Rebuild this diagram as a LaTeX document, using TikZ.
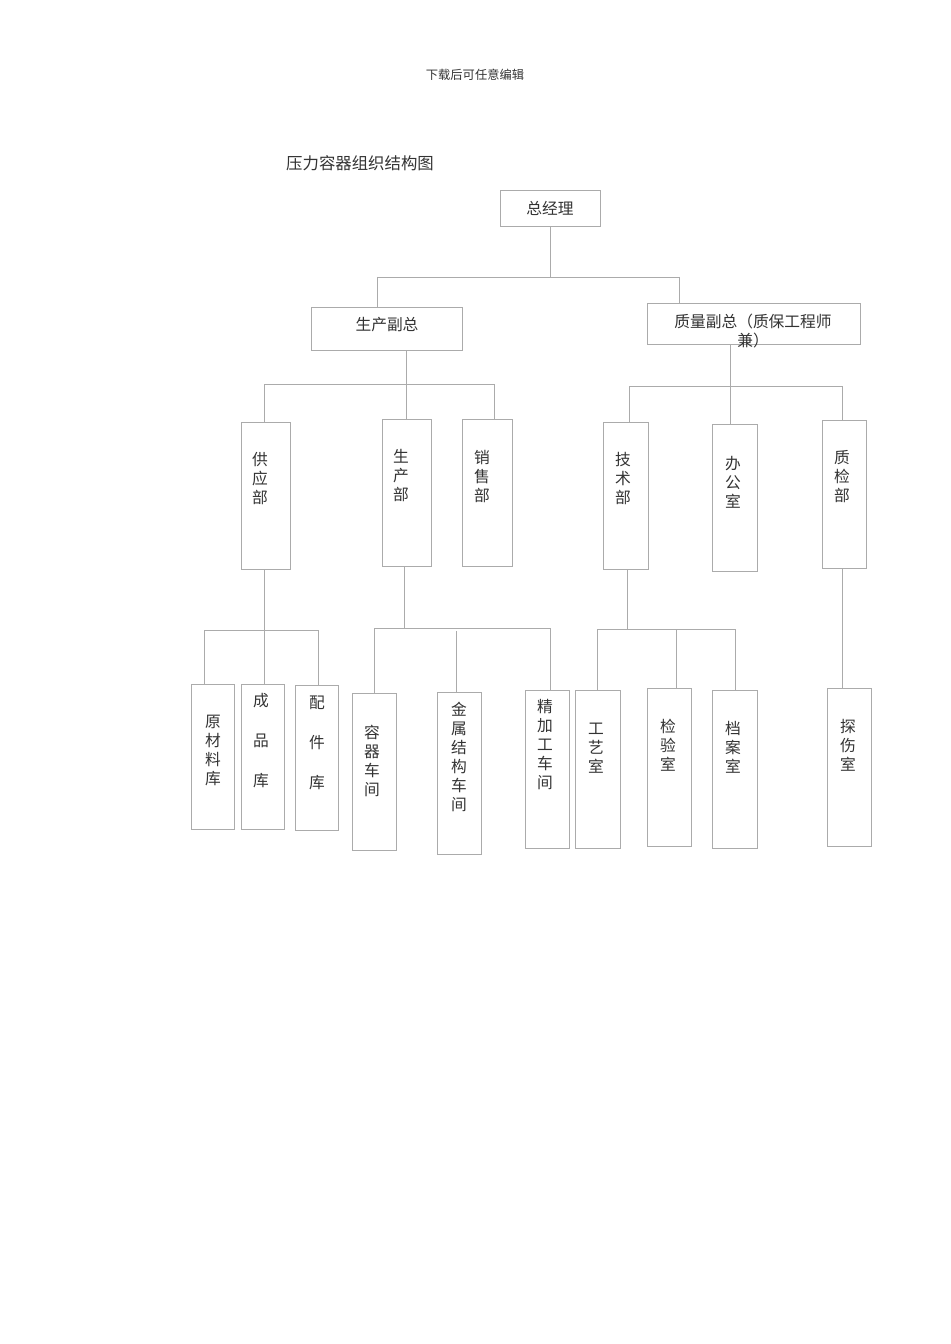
\documentclass[tikz,border=0pt]{standalone}
\usepackage{fontspec}
\newfontfamily\cjk{Noto Sans CJK SC}
\usetikzlibrary{fit}
\begin{document}
\begin{tikzpicture}[x=0.75pt,y=-0.75pt,
  box/.style={draw=black!33, line width=0.6pt, inner sep=0pt},
  conn/.style={draw=black!33, line width=0.6pt},
  txt/.style={font=\cjk\fontsize{11.8}{14.25}\selectfont, text=black!80, align=center, inner sep=0pt},
  wtxt/.style={font=\cjk\fontsize{11.8}{30}\selectfont, text=black!80, align=center, inner sep=0pt}]
\useasboundingbox[fill=white] (0,0) rectangle (950,1344);
% header and title
\node[font=\cjk\fontsize{9.2}{11}\selectfont, text=black!80, inner sep=0pt] (hdr) at (475,75) {下载后可任意编辑};
\node[font=\cjk\fontsize{12.3}{14}\selectfont, text=black!80, inner sep=0pt] (ttl) at (360,163) {压力容器组织结构图};
% level 0
\node[box, fit={(500,190) (600,226)}] (zjl) {};
\node[txt] (tzjl) at (550,208) {总经理};
% level 1
\node[box, fit={(311,307) (462,350)}] (scfz) {};
\node[txt] (tscfz) at (387,325) {生产副总};
\node[box, fit={(647,303) (860,344)}] (zlfz) {};
\node[txt] (tzlfz) at (753,331) {质量副总（质保工程师\\兼）};
% level 2
\node[box, fit={(241,422) (290,569)}] (gyb) {};
\node[txt] (tgyb) at (260,479) {供\\应\\部};
\node[box, fit={(382,419) (431,566)}] (scb) {};
\node[txt] (tscb) at (401,476) {生\\产\\部};
\node[box, fit={(462,419) (512,566)}] (xsb) {};
\node[txt] (txsb) at (482,476) {销\\售\\部};
\node[box, fit={(603,422) (648,569)}] (jsb) {};
\node[txt] (tjsb) at (623,479) {技\\术\\部};
\node[box, fit={(712,424) (757,571)}] (bgs) {};
\node[txt] (tbgs) at (733,482) {办\\公\\室};
\node[box, fit={(822,420) (866,568)}] (zjb) {};
\node[txt] (tzjb) at (842,477) {质\\检\\部};
% level 3
\node[box, fit={(191,684) (234,829)}] (ycl) {};
\node[txt] (tycl) at (213,750) {原\\材\\料\\库};
\node[box, fit={(241,684) (284,829)}] (cpk) {};
\node[wtxt] (tcpk) at (261,741) {成\\品\\库};
\node[box, fit={(295,685) (338,830)}] (pjk) {};
\node[wtxt] (tpjk) at (317,743) {配\\件\\库};
\node[box, fit={(352,693) (396,850)}] (rqcj) {};
\node[txt] (trqcj) at (372,761) {容\\器\\车\\间};
\node[box, fit={(437,692) (481,854)}] (jsjg) {};
\node[txt] (tjsjg) at (459,757) {金\\属\\结\\构\\车\\间};
\node[box, fit={(525,690) (569,848)}] (jjg) {};
\node[txt] (tjjg) at (545,745) {精\\加\\工\\车\\间};
\node[box, fit={(575,690) (620,848)}] (gys) {};
\node[txt] (tgys) at (596,748) {工\\艺\\室};
\node[box, fit={(647,688) (691,846)}] (jys) {};
\node[txt] (tjys) at (668,745) {检\\验\\室};
\node[box, fit={(712,690) (757,848)}] (das) {};
\node[txt] (tdas) at (733,747) {档\\案\\室};
\node[box, fit={(827,688) (871,846)}] (tss) {};
\node[txt] (ttss) at (848,745) {探\\伤\\室};
% connectors level 0-1
\coordinate (j0) at (550,277);
\coordinate (a1) at (377,277);
\coordinate (a2) at (679,277);
\draw[conn] (zjl.south) -- (j0);
\draw[conn] (a1) -- (a2);
\draw[conn] (a1) -- (a1 |- scfz.north);
\draw[conn] (a2) -- (a2 |- zlfz.north);
% level 1-2 left
\coordinate (b0) at (406,384);
\coordinate (b1) at (264,384);
\coordinate (b2) at (494,384);
\draw[conn] (b0 |- scfz.south) -- (b0);
\draw[conn] (b1) -- (b2);
\draw[conn] (b1) -- (b1 |- gyb.north);
\draw[conn] (b0) -- (b0 |- scb.north);
\draw[conn] (b2) -- (b2 |- xsb.north);
% level 1-2 right
\coordinate (c0) at (730,386);
\coordinate (c1) at (629,386);
\coordinate (c2) at (842,386);
\draw[conn] (c0 |- zlfz.south) -- (c0);
\draw[conn] (c1) -- (c2);
\draw[conn] (c1) -- (c1 |- jsb.north);
\draw[conn] (c0) -- (c0 |- bgs.north);
\draw[conn] (c2) -- (c2 |- zjb.north);
% level 2-3: supply
\coordinate (d0) at (264,630);
\coordinate (d1) at (204,630);
\coordinate (d2) at (318,630);
\draw[conn] (d0 |- gyb.south) -- (d0);
\draw[conn] (d1) -- (d2);
\draw[conn] (d1) -- (d1 |- ycl.north);
\draw[conn] (d0) -- (d0 |- cpk.north);
\draw[conn] (d2) -- (d2 |- pjk.north);
% production
\coordinate (e0) at (404,628);
\coordinate (e1) at (374,628);
\coordinate (e2) at (550,628);
\coordinate (e3) at (456,631);
\draw[conn] (e0 |- scb.south) -- (e0);
\draw[conn] (e1) -- (e2);
\draw[conn] (e1) -- (e1 |- rqcj.north);
\draw[conn] (e3) -- (e3 |- jsjg.north);
\draw[conn] (e2) -- (e2 |- jjg.north);
% technology
\coordinate (f0) at (627,629);
\coordinate (f1) at (597,629);
\coordinate (f2) at (735,629);
\coordinate (f3) at (676,629);
\draw[conn] (f0 |- jsb.south) -- (f0);
\draw[conn] (f1) -- (f2);
\draw[conn] (f1) -- (f1 |- gys.north);
\draw[conn] (f3) -- (f3 |- jys.north);
\draw[conn] (f2) -- (f2 |- das.north);
% quality inspection
\coordinate (g0) at (842,600);
\draw[conn] (g0 |- zjb.south) -- (g0 |- tss.north);
\end{tikzpicture}
\end{document}
